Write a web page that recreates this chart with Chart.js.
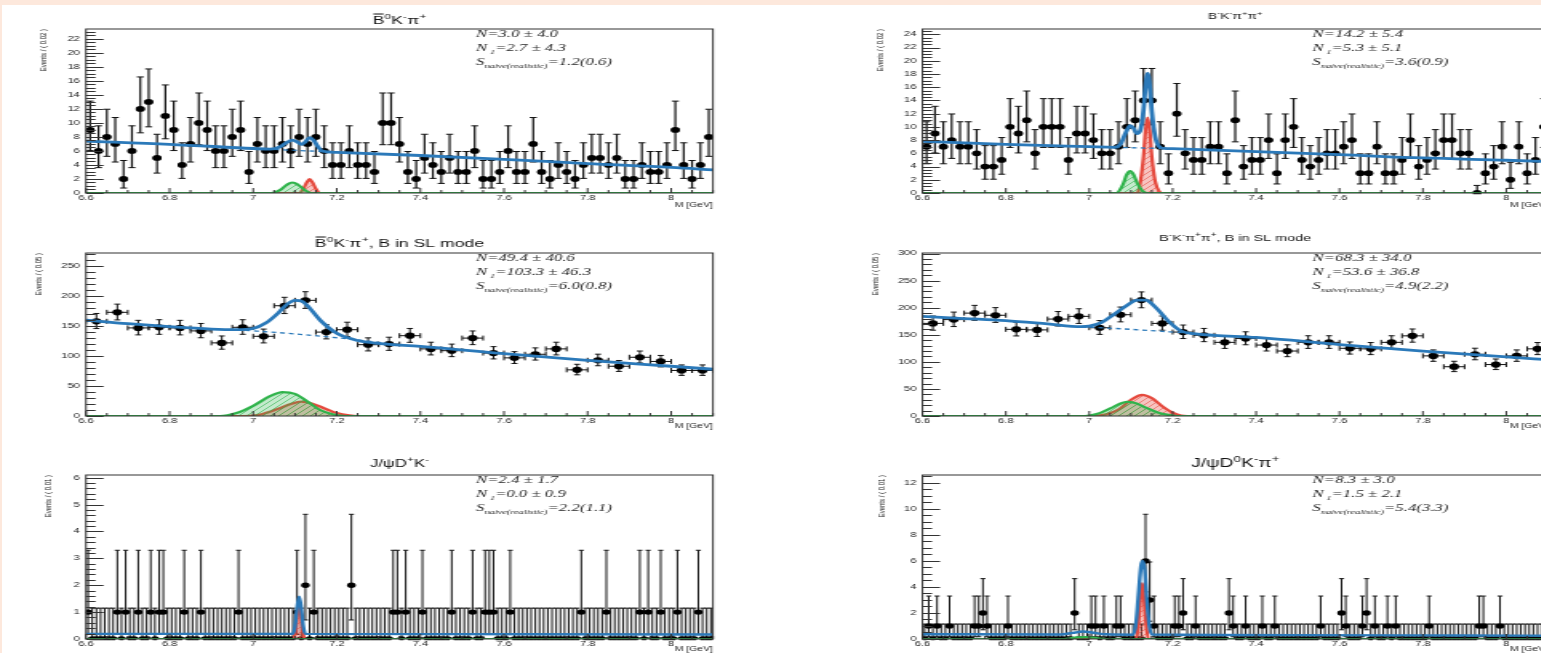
<!DOCTYPE html>
<html>
<head>
<meta charset="utf-8">
<script src="https://cdn.jsdelivr.net/npm/chart.js@4.4.1/dist/chart.umd.min.js"></script>
<style>
  html, body { margin: 0; padding: 0; width: 1541px; height: 653px; overflow: hidden; background: #fde8dc; }
  #sheet { position: absolute; left: 2px; top: 5px; right: 0; bottom: 0; background: #fff; }
  .pad { position: absolute; transform-origin: 0 0; }
  .pad canvas { display: block; }
</style>
</head>
<body>
<div id="sheet"></div>
<script>
// the reference pads are stretched sideways, so each canvas is drawn narrow and scaled in x
const S = 1.6

const xTicks = [6.6, 6.8, 7, 7.2, 7.4, 7.6, 7.8, 8]

// Poisson 68% intervals used for the low-count bins
const poissonLo = [0, 0.173, 0.708, 1.367, 2.086, 2.840, 3.620, 4.419, 5.232, 6.057, 6.891, 7.734, 8.585, 9.441, 10.30]
const poissonHi = [1.148, 3.300, 4.638, 5.918, 7.163, 8.382, 9.584, 10.77, 11.95, 13.11, 14.27, 15.42, 16.56, 17.70, 18.83]

// ---- B0bar K- pi+ (bins of 0.02)
const p1Counts = [9,6,8,7,2,6,12,13,5,11,9,4,7,10,9,6,6,8,9,3,7,6,6,7,6,8,7,8,6,4,4,6,4,4,3,10,10,7,
  3,2,5,4,3,5,3,3,6,2,2,3,6,3,3,7,3,2,4,3,2,4,5,5,4,5,2,2,4,3,3,4,9,4,2,4,8]
const p1Fit = [[6.6,7.4],[6.8,6.95],[7.0,6.35],[7.04,6.25],[7.065,6.6],[7.08,7.2],[7.094,7.55],[7.105,7.3],[7.115,6.95],
  [7.125,7.3],[7.135,7.9],[7.145,7.5],[7.155,6.6],[7.165,6.0],[7.2,5.8],[7.4,5.35],[7.6,4.8],[7.8,4.2],[8.0,3.65],[8.1,3.3]]
const p1Bkg = [[7.03,6.27],[7.17,5.9]]
const p1Green = [[6.6,0],[7.045,0],[7.065,0.45],[7.08,1.15],[7.094,1.5],[7.108,1.15],[7.123,0.45],[7.14,0],[8.1,0]]
const p1Red = [[6.6,0],[7.11,0],[7.12,0.6],[7.128,1.5],[7.135,2.0],[7.142,1.5],[7.15,0.6],[7.16,0],[8.1,0]]
const p1Stats = ['3.0 ± 4.0', '2.7 ± 4.3', '1.2(0.6)']

// ---- B- K- pi+ pi+ (bins of 0.02)
const p2Counts = [7,9,7,8,7,7,6,4,4,5,10,9,11,6,10,10,10,5,9,9,8,6,6,7,10,11,14,14,7,3,12,
  6,5,5,7,7,3,11,4,5,5,8,3,8,10,5,4,5,6,6,7,8,3,3,7,3,3,5,8,4,5,6,8,8,6,6,0,3,4,7,2,7,3,5,10]
const p2Fit = [[6.6,7.8],[6.8,7.35],[7.0,7.0],[7.06,6.9],[7.075,7.4],[7.088,9.2],[7.098,10.2],[7.106,9.8],[7.114,9.0],
  [7.122,9.4],[7.13,12.5],[7.135,16.2],[7.14,18.1],[7.145,16.2],[7.15,12.3],[7.158,8.5],[7.168,7.0],[7.18,6.75],
  [7.2,6.7],[7.4,6.25],[7.6,5.8],[7.8,5.3],[8.0,4.95],[8.1,4.75]]
const p2Bkg = [[7.06,6.9],[7.19,6.72]]
const p2Green = [[6.6,0],[7.065,0],[7.08,1.2],[7.09,2.8],[7.098,3.3],[7.106,2.8],[7.115,1.5],[7.13,0.2],[7.14,0],[8.1,0]]
const p2Red = [[6.6,0],[7.115,0],[7.122,1.5],[7.13,5.5],[7.135,9.5],[7.14,11.4],[7.145,9.5],[7.15,5.5],[7.158,1.8],[7.168,0.2],[7.175,0],[8.1,0]]
const p2Stats = ['14.2 ± 5.4', '5.3 ± 5.1', '3.6(0.9)']

// ---- B0bar K- pi+, B in SL mode (bins of 0.05)
const p3Counts = [158,173,147,148,147,142,122,148,133,184,193,140,144,119,120,134,112,109,130,105,97,103,112,77,93,83,98,91,76,76]
const p3Fit = [[6.6,160],[6.7,154],[6.8,149],[6.9,145],[6.96,144],[7.0,146],[7.03,155],[7.06,172],[7.08,186],[7.1,193],
  [7.115,192],[7.13,184],[7.16,160],[7.2,138],[7.25,126],[7.3,121],[7.4,116],[7.6,104],[7.8,93],[8.0,83],[8.1,78]]
const p3Bkg = [[6.96,144],[7.1,137],[7.25,127],[7.32,121]]
const p3Green = [[6.6,0],[6.92,0],[6.96,5],[7.0,17],[7.04,33],[7.07,40],[7.1,37],[7.13,24],[7.16,10],[7.19,3],[7.22,0],[8.1,0]]
const p3Red = [[6.6,0],[6.98,0],[7.02,3],[7.06,12],[7.09,20],[7.115,24],[7.14,21],[7.17,13],[7.2,5],[7.23,1],[7.25,0],[8.1,0]]
const p3Stats = ['49.4 ± 40.6', '103.3 ± 46.3', '6.0(0.8)']

// ---- B- K- pi+ pi+, B in SL mode (bins of 0.05)
const p4Counts = [171,178,190,186,160,159,179,184,163,187,214,171,155,149,136,143,131,120,136,136,125,124,136,148,111,91,114,95,111,124]
const p4Fit = [[6.6,184],[6.7,180],[6.8,176],[6.9,170],[6.98,165],[7.0,166],[7.03,173],[7.06,188],[7.09,204],[7.115,214],
  [7.135,214],[7.16,200],[7.19,175],[7.22,157],[7.25,152],[7.3,149],[7.4,145],[7.6,132],[7.8,120],[8.0,109],[8.1,104]]
const p4Bkg = [[6.98,165],[7.1,160],[7.24,153]]
const p4Green = [[6.6,0],[6.99,0],[7.02,4],[7.05,14],[7.075,23],[7.09,26],[7.11,24],[7.14,14],[7.17,5],[7.2,1],[7.22,0],[8.1,0]]
const p4Red = [[6.6,0],[7.0,0],[7.04,3],[7.07,12],[7.1,30],[7.127,39],[7.15,33],[7.175,18],[7.2,6],[7.22,1],[7.235,0],[8.1,0]]
const p4Stats = ['68.3 ± 34.0', '53.6 ± 36.8', '4.9(2.2)']

// ---- J/psi D+ K- (bins of 0.01)
const p5Counts = [
  1,0,0,0,0,0,0,1,0,1, 0,0,1,0,0,1,0,1,1,0, 0,0,0,1,0,0,0,1,0,0, 0,0,0,0,0,0,1,0,0,0, 0,0,0,0,0,0,0,0,0,0,
  1,0,2,0,1,0,0,0,0,0, 0,0,0,2,0,0,0,0,0,0, 0,0,0,1,1,0,1,0,0,0, 1,0,0,0,0,0,0,1,0,0, 0,0,1,0,0,1,1,1,0,0,
  0,1,0,0,0,0,0,0,0,0, 0,0,0,0,0,0,0,0,1,0, 0,0,0,0,1,0,0,0,0,0, 0,0,1,0,1,0,0,1,0,0, 0,1,0,0,0,0,1,0,0,0]
const p5Fit = [[6.6,0.19],[7.095,0.19],[7.1,0.45],[7.105,1.15],[7.11,1.57],[7.115,1.15],[7.12,0.45],[7.125,0.19],[8.1,0.17]]
const p5Green = [[6.6,0],[8.1,0]]
const p5Red = [[6.6,0],[7.097,0],[7.102,0.4],[7.106,0.95],[7.11,1.25],[7.114,0.95],[7.118,0.4],[7.123,0],[8.1,0]]
const p5Stats = ['2.4 ± 1.7', '0.0 ± 0.9', '2.2(1.1)']

// ---- J/psi D0 K- pi+ (bins of 0.01)
const p6Counts = [
  0,1,0,1,0,0,1,0,0,0, 0,0,1,1,2,1,0,0,0,0, 1,0,0,0,0,0,0,0,0,0, 0,0,0,0,0,0,2,0,0,0, 1,1,0,1,0,0,1,1,0,0,
  0,0,0,6,3,1,0,0,0,0, 1,1,2,0,0,1,0,0,0,0, 0,0,0,2,1,0,0,1,0,0, 0,1,0,0,1,0,0,0,0,0, 0,0,0,0,0,1,0,0,0,0,
  2,1,0,0,0,1,2,0,1,0, 0,1,0,1,0,0,0,0,0,0, 0,1,0,0,0,0,0,0,0,0, 0,0,0,1,1,0,0,0,1,0, 0,0,0,0,0,0,0,0,0,0]
const p6Fit = [[6.6,0.37],[6.93,0.35],[6.96,0.47],[6.985,0.58],[7.01,0.48],[7.04,0.36],[7.105,0.33],[7.112,1.2],[7.118,3.4],
  [7.124,5.6],[7.128,6.0],[7.133,5.3],[7.138,3.0],[7.144,1.0],[7.15,0.34],[7.5,0.3],[7.9,0.27],[8.1,0.25]]
const p6Green = [[6.6,0],[6.94,0],[6.97,0.12],[6.99,0.15],[7.01,0.1],[7.04,0],[8.1,0]]
const p6Red = [[6.6,0],[7.112,0],[7.118,1.2],[7.123,3.2],[7.127,4.3],[7.131,3.2],[7.136,1.2],[7.142,0],[8.1,0]]
const p6Stats = ['8.3 ± 3.0', '1.5 ± 2.1', '5.4(3.3)']

// titles as [text, kind] pieces: kind is '', 'sup' or 'bar'
const bKpi = [['B', 'bar'], ['0', 'sup'], ['K', ''], ['-', 'sup'], ['π', ''], ['+', 'sup']]
const bKpipi = [['B', ''], ['-', 'sup'], ['K', ''], ['-', 'sup'], ['π', ''], ['+', 'sup'], ['π', ''], ['+', 'sup']]
const slMode = [[', B in SL mode', '']]

const BLUE = '#2b79b9'
const GREEN = '#2fb34b'
const RED = '#e5493d'

Chart.defaults.font.family = '"Liberation Sans", Arial, sans-serif'

function binned(counts, xMin, width) {
  return counts.map((n, i) => ({
    x: xMin + width * (i + 0.5),
    y: n,
    lo: n < poissonLo.length ? poissonLo[n] : n + 0.5 - Math.sqrt(n + 0.25),
    hi: n < poissonHi.length ? poissonHi[n] : n + 0.5 + Math.sqrt(n + 0.25),
  }))
}
const pts = pairs => pairs.map(([x, y]) => ({ x, y }))

function hatch(bg, fg, cross) {
  const c = document.createElement('canvas')
  c.width = c.height = 5
  const g = c.getContext('2d')
  g.fillStyle = bg
  g.fillRect(0, 0, 5, 5)
  g.strokeStyle = fg
  g.lineWidth = 1
  g.beginPath()
  g.moveTo(0, 5); g.lineTo(5, 0)
  if (cross) { g.moveTo(0, 0); g.lineTo(5, 5) }
  g.stroke()
  return g.createPattern(c, 'repeat')
}

function drawRich(ctx, segs, x, y, size, family, italic, center, subScale) {
  const small = k => k === 'sup' ? size * 0.7 : k === 'sub' ? size * subScale : size
  const f = k => `${italic ? 'italic ' : ''}${small(k)}px ${family}`
  let w = 0
  for (const [t, k] of segs) { ctx.font = f(k); w += ctx.measureText(t).width }
  let cx = center ? x - w / 2 : x
  const base = y + size * 0.36
  ctx.textAlign = 'left'
  ctx.textBaseline = 'alphabetic'
  for (const [t, k] of segs) {
    ctx.font = f(k)
    const tw = ctx.measureText(t).width
    const dy = k === 'sup' ? -size * 0.45 : k === 'sub' ? size * 0.3 : 0
    ctx.fillText(t, cx, base + dy)
    if (k === 'bar') ctx.fillRect(cx + 0.5, base - size * 0.95, tw - 1, Math.max(1, size * 0.09))
    cx += tw
  }
}

// ROOT-like pad: error bars, frame, inner ticks, title and fit summary
function padPlugin(p, points) {
  return {
    id: 'rootPad',
    beforeDatasetsDraw(chart) {
      const { ctx, chartArea: a, scales: { x, y } } = chart
      const e = p.err
      ctx.save()
      ctx.beginPath()
      ctx.rect(a.left, a.top - 2, a.width, a.height + 4)
      ctx.clip()
      ctx.strokeStyle = '#111'
      points.forEach(pt => {
        const px = x.getPixelForValue(pt.x), py = y.getPixelForValue(pt.y)
        const top = y.getPixelForValue(pt.hi), bot = y.getPixelForValue(pt.lo)
        const x0 = x.getPixelForValue(pt.x - p.bin / 2), x1 = x.getPixelForValue(pt.x + p.bin / 2)
        ctx.lineWidth = e.w
        ctx.beginPath(); ctx.moveTo(px, top); ctx.lineTo(px, bot); ctx.stroke()
        ctx.lineWidth = 1
        ctx.beginPath()
        ctx.moveTo(px - e.cap, top); ctx.lineTo(px + e.cap, top)
        ctx.moveTo(px - e.cap, bot); ctx.lineTo(px + e.cap, bot)
        ctx.stroke()
        ctx.lineWidth = e.xw
        ctx.beginPath(); ctx.moveTo(x0, py); ctx.lineTo(x1, py); ctx.stroke()
        if (e.xcap) {
          ctx.lineWidth = 1
          ctx.beginPath()
          ctx.moveTo(x0, py - e.xcap); ctx.lineTo(x0, py + e.xcap)
          ctx.moveTo(x1, py - e.xcap); ctx.lineTo(x1, py + e.xcap)
          ctx.stroke()
        }
      })
      ctx.restore()
    },
    afterDraw(chart) {
      const { ctx, chartArea: a, scales: { x, y } } = chart
      ctx.save()
      ctx.strokeStyle = '#333'
      ctx.lineWidth = 1
      ctx.strokeRect(a.left, a.top, a.width, a.height)
      ctx.beginPath()
      for (let k = 0; k * p.yMinor <= y.max + 1e-9; k++) {
        const py = Math.round(y.getPixelForValue(k * p.yMinor)) + 0.5
        ctx.moveTo(a.left, py)
        ctx.lineTo(a.left + (k % p.yPerMajor === 0 ? 11 : 6), py)
      }
      for (let k = 0; 6.6 + k * 0.05 <= 8.1 + 1e-9; k++) {
        const px = x.getPixelForValue(6.6 + k * 0.05)
        ctx.moveTo(px, a.bottom)
        ctx.lineTo(px, a.bottom - (k % 4 === 0 ? 5 : 3))
      }
      ctx.stroke()

      ctx.fillStyle = '#111'
      drawRich(ctx, p.title, (a.left + a.right) / 2, p.titleY - p.box[1], p.titleSize, '"Liberation Sans", Arial, sans-serif', false, true, 0.7)

      ctx.fillStyle = '#262626'
      const sx = a.left + 390 / S
      const serif = '"Liberation Serif", "DejaVu Serif", serif'
      drawRich(ctx, [['N=' + p.stats[0], '']], sx, a.top + 4.5, 10.5, serif, true, false, 0.62)
      drawRich(ctx, [['N', ''], [' 1', 'sub'], ['=' + p.stats[1], '']], sx, a.top + 18.5, 10.5, serif, true, false, 0.62)
      drawRich(ctx, [['S', ''], ['naive(realistic)', 'sub'], ['=' + p.stats[2], '']], sx, a.top + 32, 10.5, serif, true, false, 0.62)
      ctx.restore()
    },
  }
}

const errSmall = { w: 1.2, cap: 2.2, xw: 2.6, xcap: 0, r: 2.9 }
const errWide = { w: 1, cap: 1.9, xw: 1, xcap: 2.5, r: 3.1 }
const errFine = { w: 1, cap: 1.6, xw: 2.4, xcap: 0, r: 2.7 }

const panels = [
  { box: [0, 0, 770, 218], area: [86, 713, 29, 193], hX: 16.5, yTitleOff: 42, titleY: 20, titleSize: 11,
    title: bKpi, counts: p1Counts, bin: 0.02, fit: p1Fit, bkg: p1Bkg, green: p1Green, red: p1Red, stats: p1Stats,
    yMax: 23.4, yTicks: [0, 2, 4, 6, 8, 10, 12, 14, 16, 18, 20, 22], yMinor: 0.5, yPerMajor: 4, yTitle: 'Events / ( 0.02 )', err: errSmall, fitW: 2.8 },
  { box: [800, 0, 770, 218], area: [922.5, 1548, 29, 193], hX: 16.5, yTitleOff: 42.5, titleY: 16, titleSize: 8.5,
    title: bKpipi, counts: p2Counts, bin: 0.02, fit: p2Fit, bkg: p2Bkg, green: p2Green, red: p2Red, stats: p2Stats,
    yMax: 24.8, yTicks: [0, 2, 4, 6, 8, 10, 12, 14, 16, 18, 20, 22, 24], yMinor: 0.5, yPerMajor: 4, yTitle: 'Events / ( 0.02 )', err: errSmall, fitW: 2.8 },
  { box: [0, 220, 770, 218], area: [86, 713, 253, 416], hX: 14.6, yTitleOff: 47.5, titleY: 243, titleSize: 11,
    title: bKpi.concat(slMode), counts: p3Counts, bin: 0.05, fit: p3Fit, bkg: p3Bkg, green: p3Green, red: p3Red, stats: p3Stats,
    yMax: 272, yTicks: [0, 50, 100, 150, 200, 250], yMinor: 10, yPerMajor: 5, yTitle: 'Events / ( 0.05 )', err: errWide, fitW: 2.8 },
  { box: [800, 220, 770, 218], area: [922.5, 1548, 253, 416], hX: 14.6, yTitleOff: 47, titleY: 238, titleSize: 9,
    title: bKpipi.concat(slMode), counts: p4Counts, bin: 0.05, fit: p4Fit, bkg: p4Bkg, green: p4Green, red: p4Red, stats: p4Stats,
    yMax: 301, yTicks: [0, 50, 100, 150, 200, 250, 300], yMinor: 10, yPerMajor: 5, yTitle: 'Events / ( 0.05 )', err: errWide, fitW: 2.8 },
  { box: [0, 440, 770, 213], area: [86, 713, 475, 639], hX: 14, yTitleOff: 37, titleY: 463, titleSize: 10.5,
    title: [['J/ψD', ''], ['+', 'sup'], ['K', ''], ['-', 'sup']], counts: p5Counts, bin: 0.01, fit: p5Fit, bkg: null, green: p5Green, red: p5Red, stats: p5Stats,
    yMax: 6.1, yTicks: [0, 1, 2, 3, 4, 5, 6], yMinor: 0.2, yPerMajor: 5, yTitle: 'Events / ( 0.01 )', err: errFine, fitW: 2.4 },
  { box: [800, 440, 770, 213], area: [922.5, 1548, 475, 639], hX: 14, yTitleOff: 40.5, titleY: 463, titleSize: 12,
    title: [['J/ψD', ''], ['0', 'sup'], ['K', ''], ['-', 'sup'], ['π', ''], ['+', 'sup']], counts: p6Counts, bin: 0.01, fit: p6Fit, bkg: null, green: p6Green, red: p6Red, stats: p6Stats,
    yMax: 12.6, yTicks: [0, 2, 4, 6, 8, 10, 12], yMinor: 0.5, yPerMajor: 4, yTitle: 'Events / ( 0.01 )', err: errFine, fitW: 2.4 },
]

const greenFill = hatch('rgba(47,179,75,0.28)', 'rgba(47,179,75,0.6)', false)
const redFill = hatch('rgba(229,73,61,0.32)', 'rgba(229,73,61,0.55)', false)

function makePanel(p) {
  const W = Math.round(p.box[2] / S), H = p.box[3]
  const left = (p.area[0] - p.box[0]) / S
  const right = (p.area[1] - p.box[0]) / S
  const top = p.area[2] - p.box[1]
  const bottom = p.area[3] - p.box[1]
  const yTitleX = (p.area[0] - p.yTitleOff - p.box[0]) / S

  const wrap = document.createElement('div')
  wrap.className = 'pad'
  wrap.style.left = p.box[0] + 'px'
  wrap.style.top = p.box[1] + 'px'
  wrap.style.transform = `scaleX(${S})`
  const cv = document.createElement('canvas')
  cv.width = W
  cv.height = H
  wrap.appendChild(cv)
  document.body.appendChild(wrap)

  const points = binned(p.counts, 6.6, p.bin)
  const curve = { type: 'line', pointRadius: 0, cubicInterpolationMode: 'monotone' }
  const datasets = [
    { ...curve, data: pts(p.fit), borderColor: BLUE, borderWidth: p.fitW, fill: false, order: 1 },
    { ...curve, data: pts(p.green), borderColor: GREEN, borderWidth: 2.2, fill: 'origin', backgroundColor: greenFill, order: 3 },
    { ...curve, data: pts(p.red), borderColor: RED, borderWidth: 2.2, fill: 'origin', backgroundColor: redFill, order: 4 },
    { type: 'scatter', data: points, pointRadius: p.err.r, pointBackgroundColor: '#000', pointBorderWidth: 0, showLine: false, order: 5 },
  ]
  if (p.bkg) datasets.push({ ...curve, data: pts(p.bkg), borderColor: BLUE, borderWidth: 1.3, borderDash: [3, 2.5], fill: false, order: 2 })

  const tickFont = { size: 7 }
  new Chart(cv, {
    type: 'scatter',
    data: { datasets },
    options: {
      responsive: false,
      animation: false,
      devicePixelRatio: 1,
      events: [],
      layout: { autoPadding: false, padding: { left: 0, top, right: W - right, bottom: H - bottom - p.hX } },
      plugins: { legend: { display: false }, tooltip: { enabled: false } },
      scales: {
        x: {
          type: 'linear', min: 6.6, max: 8.1,
          afterBuildTicks: s => { s.ticks = xTicks.map(v => ({ value: v })) },
          afterFit: s => { s.height = p.hX },
          grid: { display: false, drawTicks: false }, border: { display: false },
          ticks: { font: tickFont, color: '#222', padding: 1, autoSkip: false, maxRotation: 0, callback: v => String(v) },
          title: { display: true, text: 'M [GeV]', align: 'end', color: '#222', font: { size: 6.5 }, padding: { top: 0, bottom: 0 } },
        },
        y: {
          min: 0, max: p.yMax,
          afterBuildTicks: s => { s.ticks = p.yTicks.map(v => ({ value: v })) },
          afterFit: s => { s.width = left },
          grid: { display: false, drawTicks: false }, border: { display: false },
          ticks: { font: tickFont, color: '#222', padding: 3.75, callback: v => String(v) },
          title: { display: true, text: p.yTitle, align: 'end', color: '#222', font: { size: 6 }, padding: { top: yTitleX - 3.6, bottom: 0 } },
        },
      },
    },
    plugins: [padPlugin(p, points)],
  })
}

panels.forEach(makePanel)
</script>
</body>
</html>
